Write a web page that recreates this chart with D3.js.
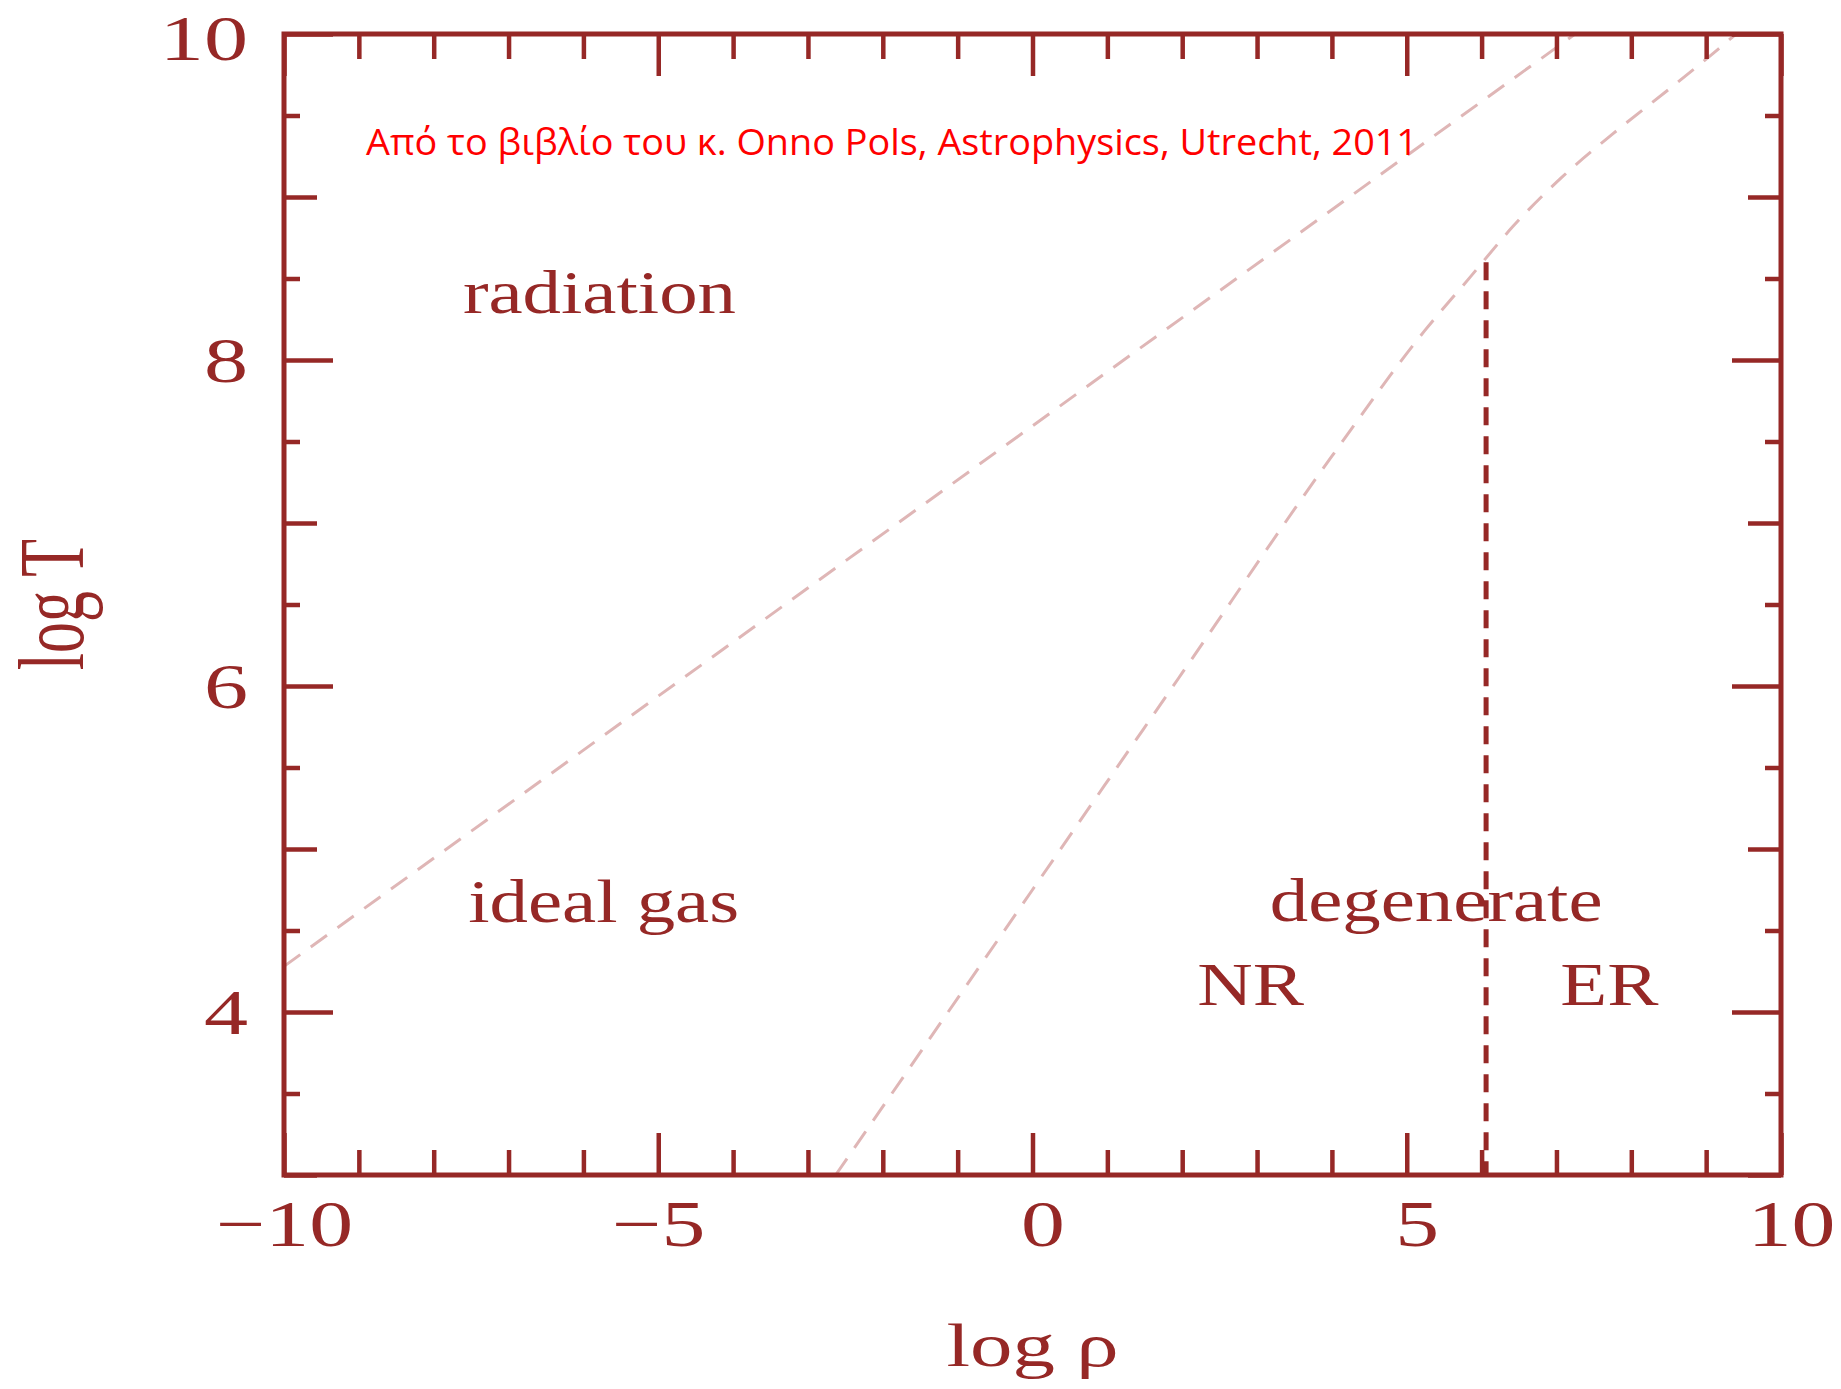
<!DOCTYPE html>
<html>
<head>
<meta charset="utf-8">
<script src="https://cdn.jsdelivr.net/npm/d3@7"></script>
<style>
  html, body { margin: 0; padding: 0; background: #fff; }
  svg { display: block; }
</style>
</head>
<body>
<svg id="chart" width="1841" height="1389"></svg>
<script>
// Equation-of-state regimes in the (log rho, log T) plane.

// Axis extents and labelled ticks
const xDomain = [-10, 10];
const yDomain = [3, 10];
const xTickLabels = [-10, -5, 0, 5, 10];
const yTickLabels = [4, 6, 8, 10];
const yOddTicks = [3, 5, 7, 9];

// Radiation pressure = ideal-gas pressure
const radLogRho = [-10, 7.25];
const radLogT = [4.28, 10];

// Ideal gas = degenerate electron pressure (non-relativistic -> relativistic)
const degLogRho = [-2.63, 0, 2, 4, 5.24, 5.85, 6.42, 7.07, 7.76, 8.5, 9.09, 9.4];
const degLogT = [3.0, 4.75, 6.08, 7.41, 8.18, 8.51, 8.82, 9.12, 9.39, 9.66, 9.88, 10.0];

// Onset of relativistic degeneracy
const relLogRho = [6.06, 6.06];
const relLogT = [3.0, 8.6];

// Region names
const regionNames = ["radiation", "ideal gas", "degenerate", "NR", "ER"];
const regionLogRho = [-7.61, -7.54, 3.17, 2.2, 7.05];
const regionLogT = [8.29, 4.55, 4.56, 4.04, 4.04];

const xTitle = "log ρ";
const yTitle = "log T";
const credit = "Από το βιβλίο του κ. Onno Pols, Astrophysics, Utrecht, 2011";

// ---- layout ----
const svg = d3.select("#chart");
const plotL = 284, plotR = 1781, plotT = 34, plotB = 1175;
const ink = "#962826";
const serif = "'Liberation Serif', 'Times New Roman', serif";

const x = d3.scaleLinear().domain(xDomain).range([plotL, plotR]);
const y = d3.scaleLinear().domain(yDomain).range([plotB, plotT]);

// ---- boundary curves ----
const lightDash = { stroke: "#dfb6b6", width: 3, dash: "20,13" };

function drawCurve(xs, ys, style, curve) {
  const pts = xs.map((v, i) => [v, ys[i]]);
  const line = d3.line().x(d => x(d[0])).y(d => y(d[1])).curve(curve || d3.curveLinear);
  svg.append("path")
    .attr("d", line(pts))
    .attr("fill", "none")
    .attr("stroke", style.stroke)
    .attr("stroke-width", style.width)
    .attr("stroke-dasharray", style.dash);
}

drawCurve(radLogRho, radLogT, lightDash);
drawCurve(degLogRho, degLogT, lightDash, d3.curveMonotoneX);
// drawn from the junction downward
drawCurve(relLogRho.slice().reverse(), relLogT.slice().reverse(),
  { stroke: ink, width: 5, dash: "18,11" });

// ---- axes (ticks point inward on all four sides) ----
function styleAxis(g) {
  g.select(".domain").remove();
  g.selectAll(".tick line").attr("stroke", ink).attr("stroke-width", 4.5);
}

const xAll = x.ticks(20);
const yAll = y.ticks(14);
const xMinor = xAll.filter(v => !xTickLabels.includes(v));
const yHalf = yAll.filter(v => !Number.isInteger(v));

function addAxis(axisFn, scale, values, len, labelled, transform) {
  const ax = axisFn(scale).tickValues(values).tickSizeInner(-len).tickSizeOuter(0)
    .tickFormat(labelled ? d3.format("d") : () => "");
  return svg.append("g").attr("transform", transform).call(ax).call(styleAxis);
}

// bottom
const xLab = addAxis(d3.axisBottom, x, xTickLabels, 42, true, `translate(0,${plotB})`);
addAxis(d3.axisBottom, x, xMinor, 25, false, `translate(0,${plotB})`);
// top
addAxis(d3.axisTop, x, xTickLabels, 42, false, `translate(0,${plotT})`);
addAxis(d3.axisTop, x, xMinor, 25, false, `translate(0,${plotT})`);
// left
const yLab = addAxis(d3.axisLeft, y, yTickLabels, 49, true, `translate(${plotL},0)`);
addAxis(d3.axisLeft, y, yOddTicks, 33, false, `translate(${plotL},0)`);
addAxis(d3.axisLeft, y, yHalf, 16, false, `translate(${plotL},0)`);
// right
addAxis(d3.axisRight, y, yTickLabels, 49, false, `translate(${plotR},0)`);
addAxis(d3.axisRight, y, yOddTicks, 33, false, `translate(${plotR},0)`);
addAxis(d3.axisRight, y, yHalf, 16, false, `translate(${plotR},0)`);

// tick label typography
xLab.attr("font-family", null).attr("font-size", null);
xLab.selectAll(".tick text")
  .attr("fill", ink)
  .style("font-family", serif)
  .style("font-size", "65px")
  .attr("y", 0).attr("dy", "0.71em")
  .attr("transform", d => `translate(${d >= 0 ? 10 : 0},25) scale(1.35,1)`);

yLab.attr("font-family", null).attr("font-size", null);
yLab.selectAll(".tick text")
  .attr("fill", ink)
  .style("font-family", serif)
  .style("font-size", "63px")
  .attr("x", 0)
  .attr("dy", d => d === yDomain[1] ? "0.41em" : "0.34em")
  .attr("transform", "translate(-36,0) scale(1.4,1)");

// frame
svg.append("rect")
  .attr("x", plotL).attr("y", plotT)
  .attr("width", plotR - plotL).attr("height", plotB - plotT)
  .attr("fill", "none").attr("stroke", ink).attr("stroke-width", 5);

// ---- region labels ----
svg.append("g").selectAll("text")
  .data(regionNames)
  .join("text")
  .attr("transform", (d, i) => `translate(${x(regionLogRho[i])},${y(regionLogT[i])}) scale(1.26,1)`)
  .attr("fill", ink)
  .style("font-family", serif)
  .style("font-size", "61px")
  .text(d => d);

// ---- axis titles ----
svg.append("text")
  .attr("transform", `translate(${x(0)},1366) scale(1.37,1)`)
  .attr("text-anchor", "middle")
  .attr("fill", ink)
  .style("font-family", serif)
  .style("font-size", "62px")
  .text(xTitle);

svg.append("text")
  .attr("transform", `translate(83,${(plotT + plotB) / 2}) scale(1.5,1) rotate(-90)`)
  .attr("text-anchor", "middle")
  .attr("fill", ink)
  .style("font-family", serif)
  .style("font-size", "62px")
  .text(yTitle);

// ---- source note ----
svg.append("text")
  .attr("x", 366).attr("y", 155)
  .attr("textLength", 1052)
  .attr("lengthAdjust", "spacingAndGlyphs")
  .attr("fill", "#ff0000")
  .style("font-family", "'Open Sans', 'Noto Sans', sans-serif")
  .style("font-size", "37px")
  .text(credit);
</script>
</body>
</html>
